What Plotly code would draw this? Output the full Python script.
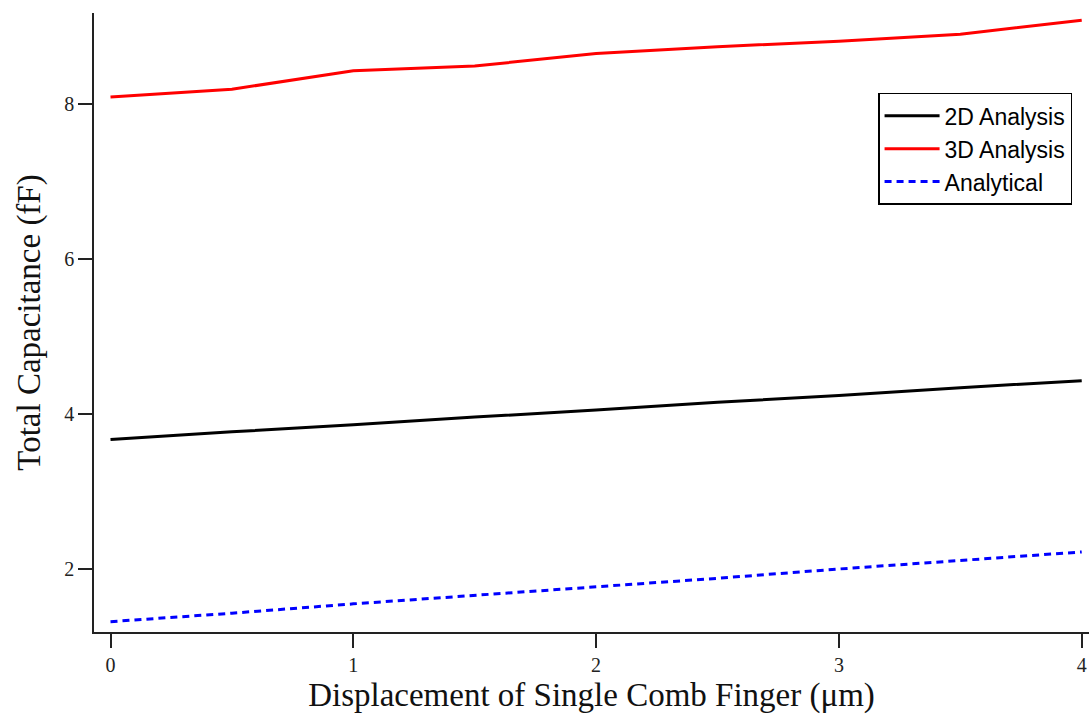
import plotly.graph_objects as go

# Finger displacement (um)
displacement = [0, 0.5, 1.0, 1.5, 2.0, 2.5, 3.0, 3.5, 4.0]

# Total capacitance (fF) for each method
cap_2d = [3.67, 3.77, 3.86, 3.96, 4.05, 4.15, 4.24, 4.34, 4.43]
cap_3d = [8.09, 8.19, 8.43, 8.49, 8.65, 8.74, 8.81, 8.90, 9.08]
cap_analytical = [1.32, 1.43, 1.55, 1.66, 1.77, 1.88, 2.00, 2.11, 2.22]

x_ticks = [0, 1, 2, 3, 4]
y_ticks = [2, 4, 6, 8]

serif = "Liberation Serif, Times New Roman, serif"
sans = "Liberation Sans, Arial, sans-serif"

fig = go.Figure()
fig.add_trace(go.Scatter(x=displacement, y=cap_2d, mode="lines", name="2D Analysis",
                         line=dict(color="black", width=3)))
fig.add_trace(go.Scatter(x=displacement, y=cap_3d, mode="lines", name="3D Analysis",
                         line=dict(color="#ff0000", width=3)))
fig.add_trace(go.Scatter(x=displacement, y=cap_analytical, mode="lines", name="Analytical",
                         line=dict(color="#0000ff", width=3, dash="7px,5px")))

axis_common = dict(
    showgrid=False, zeroline=False, showline=True, linecolor="#222", linewidth=1.5,
    ticks="outside", ticklen=14, tickwidth=1.5, tickcolor="#222",
    tickfont=dict(family=serif, size=20, color="#222"),
    title_font=dict(family=serif, size=33, color="#111"),
    automargin=False,
)

fig.update_layout(
    width=1089, height=717,
    margin=dict(l=94, r=0, t=13, b=85, autoexpand=False),
    paper_bgcolor="white", plot_bgcolor="white",
    showlegend=True,
    legend=dict(
        x=0.788, y=0.871, xref="paper", yref="paper",
        xanchor="left", yanchor="top",
        bgcolor="white", bordercolor="black", borderwidth=1.5,
        font=dict(family=sans, size=23, color="black"),
        itemwidth=55, tracegroupgap=0,
    ),
    xaxis=dict(range=[-0.068, 4.03], tickvals=x_ticks, ticktext=[str(v) for v in x_ticks],
               title=dict(text="Displacement of Single Comb Finger (μm)", standoff=8),
               **axis_common),
    yaxis=dict(range=[1.187, 9.174], tickvals=y_ticks, ticktext=[str(v) for v in y_ticks],
               title=dict(text="Total Capacitance (fF)", standoff=14),
               **axis_common),
)

fig.write_html("out.html")
